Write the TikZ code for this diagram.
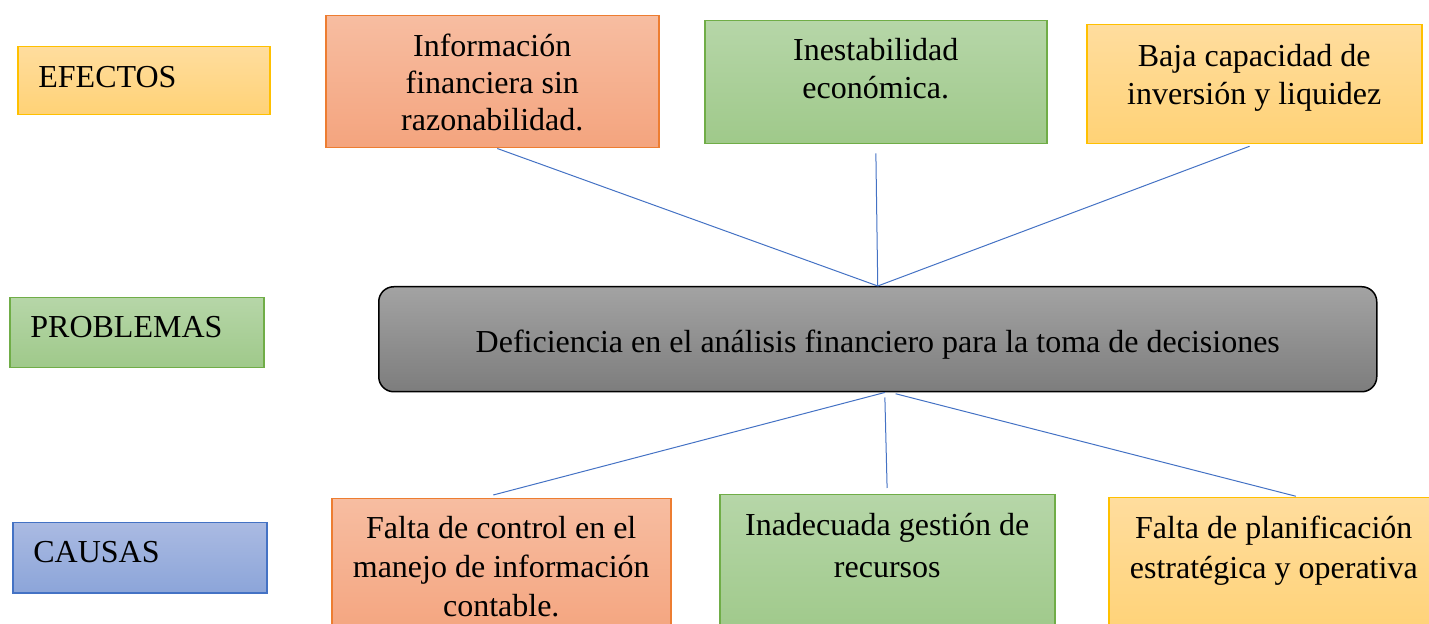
\documentclass[tikz,border=0pt]{standalone}
\usepackage{fontspec}
\setmainfont{Liberation Serif}
\usetikzlibrary{positioning,calc}
\definecolor{naranjaT}{HTML}{F7BDA1}
\definecolor{naranjaB}{HTML}{F4A47E}
\definecolor{naranjaL}{HTML}{ED7D31}
\definecolor{verdeT}{HTML}{B6D6A8}
\definecolor{verdeB}{HTML}{9FC98A}
\definecolor{verdeL}{HTML}{70AD47}
\definecolor{amarT}{HTML}{FFDD9E}
\definecolor{amarB}{HTML}{FFD276}
\definecolor{amarL}{HTML}{FFC000}
\definecolor{azulT}{HTML}{AABAE2}
\definecolor{azulB}{HTML}{8CA5D9}
\definecolor{azulL}{HTML}{4472C4}
\definecolor{grisT}{HTML}{A3A3A3}
\definecolor{grisB}{HTML}{7D7D7D}
\newcommand{\interl}[1]{\fontsize{16pt}{#1}\selectfont}
\begin{document}
\begin{tikzpicture}[x=0.5pt,y=-0.5pt,
    font={\interl{18.5pt}},
    caja/.style={draw, line width=0.75pt, inner sep=0pt, anchor=north west},
    naranja/.style={caja, draw=naranjaL, top color=naranjaT, bottom color=naranjaB},
    verde/.style={caja, draw=verdeL, top color=verdeT, bottom color=verdeB},
    amarillo/.style={caja, draw=amarL, top color=amarT, bottom color=amarB},
    azul/.style={caja, draw=azulL, top color=azulT, bottom color=azulB},
    txt/.style={inner sep=0pt, align=center},
    enlace/.style={draw=azulL, line width=0.5pt}]
      \path[use as bounding box, clip] (0,0) rectangle (1429,624);
      % etiquetas de la izquierda
      \node[amarillo, minimum width=126pt, minimum height=34pt] (lEfectos) at (17,46) {};
      \node[verde, minimum width=127pt, minimum height=35pt] (lProblemas) at (9,297) {};
      \node[azul, minimum width=127pt, minimum height=35pt] (lCausas) at (12,522) {};
      \node[txt, below right=10pt and 10.5pt of lEfectos.north west] (lEfectosT) {EFECTOS};
      \node[txt, below right=9.5pt and 10.5pt of lProblemas.north west] (lProblemasT) {PROBLEMAS};
      \node[txt, below right=9.5pt and 10.5pt of lCausas.north west] (lCausasT) {CAUSAS};
      % efectos
      \node[naranja, minimum width=166.5pt, minimum height=66pt] (infFin) at (325,15) {};
      \node[verde, minimum width=171pt, minimum height=61.5pt] (inestab) at (704,20) {};
      \node[amarillo, minimum width=167.5pt, minimum height=59.5pt] (bajaCap) at (1086,24) {};
      \node[txt, below=9.5pt of infFin.north] (infFinT) {Información\\financiera sin\\razonabilidad.};
      \node[txt, font={\interl{19pt}}, below=9pt of inestab.north] (inestabT) {Inestabilidad\\económica.};
      \node[txt, font={\interl{19pt}}, below=10pt of bajaCap.north] (bajaCapT) {Baja capacidad de\\inversión y liquidez};
      % problema central
      \node[caja, draw=black, rounded corners=7.5pt, top color=grisT, bottom color=grisB,
            minimum width=499pt, minimum height=52.5pt] (deficiencia) at (378,286) {};
      \node[txt] (deficienciaT) at ($(deficiencia.center)+(0,5)$)
            {Deficiencia en el análisis financiero para la toma de decisiones};
      % causas
      \node[naranja, minimum width=169.5pt, minimum height=70pt] (faltaCtrl) at (331,498) {};
      \node[verde, minimum width=167.5pt, minimum height=70pt] (gestRec) at (719,494) {};
      \node[amarillo, minimum width=165pt, minimum height=70pt] (faltaPlan) at (1108,497) {};
      \node[txt, font={\interl{19.5pt}}, below=9pt of faltaCtrl.north] (faltaCtrlT) {Falta de control en el\\manejo de información\\contable.};
      \node[txt, font={\interl{21pt}}, below=9.5pt of gestRec.north] (gestRecT) {Inadecuada gestión de\\recursos};
      \node[txt, font={\interl{20pt}}, below=9.5pt of faltaPlan.north] (faltaPlanT) {Falta de planificación\\estratégica y operativa};
      % enlaces
      \draw[enlace] ([xshift=2.5pt]infFin.south) -- (deficiencia.north);
      \draw[enlace, shorten <=4.5pt] (inestab.south) -- (deficiencia.north);
      \draw[enlace, shorten <=2.5pt] (bajaCap.south) -- (deficiencia.north);
      \draw[enlace] ([xshift=3.5pt]deficiencia.south) -- ([xshift=-4pt,yshift=1.5pt]faltaCtrl.north);
      \draw[enlace, shorten <=2.5pt, shorten >=3pt] ([xshift=3.5pt]deficiencia.south) -- (gestRec.north);
      \draw[enlace, shorten <=2.5pt, shorten >=1.5pt] ([xshift=6.5pt]deficiencia.south) -- ([xshift=12.5pt]faltaPlan.north);
\end{tikzpicture}
\end{document}
